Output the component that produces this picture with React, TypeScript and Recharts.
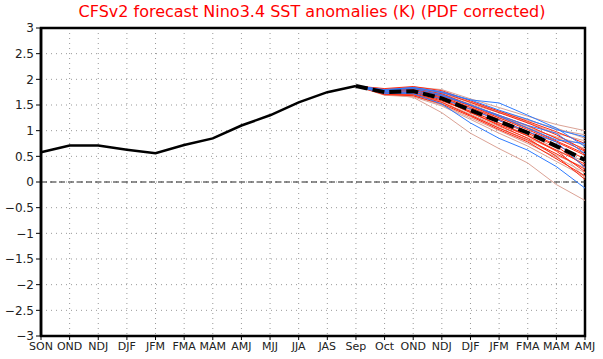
import { LineChart, Line, XAxis, YAxis, CartesianGrid, ReferenceLine, ReferenceArea } from 'recharts';

const categories = ['SON', 'OND', 'NDJ', 'DJF', 'JFM', 'FMA', 'MAM', 'AMJ', 'MJJ', 'JJA', 'JAS', 'Sep', 'Oct', 'OND', 'NDJ', 'DJF', 'JFM', 'FMA', 'MAM', 'AMJ'];
const yTicks = [-3, -2.5, -2, -1.5, -1, -0.5, 0, 0.5, 1, 1.5, 2, 2.5, 3];

// observed, SON .. Sep
const observed = [0.58, 0.71, 0.71, 0.63, 0.56, 0.72, 0.85, 1.1, 1.3, 1.55, 1.75, 1.87];
// ensemble mean, Sep .. AMJ
const ensembleMean = [1.87, 1.75, 1.77, 1.63, 1.4, 1.18, 0.96, 0.7, 0.43];

// members, Oct .. AMJ (start from the last observed value)
const redMembers = [
  [1.78, 1.82, 1.72, 1.5, 1.28, 1.05, 0.8, 0.55],
  [1.72, 1.74, 1.6, 1.35, 1.12, 0.9, 0.62, 0.35],
  [1.8, 1.84, 1.75, 1.55, 1.35, 1.15, 0.92, 0.62],
  [1.7, 1.7, 1.55, 1.3, 1.05, 0.82, 0.55, 0.25],
  [1.76, 1.78, 1.66, 1.45, 1.22, 0.98, 0.72, 0.45],
  [1.74, 1.72, 1.58, 1.38, 1.15, 0.9, 0.6, 0.2],
  [1.82, 1.86, 1.78, 1.58, 1.38, 1.18, 0.98, 0.75],
  [1.73, 1.76, 1.62, 1.36, 1.1, 0.85, 0.5, 0.05],
  [1.77, 1.8, 1.68, 1.48, 1.25, 1.02, 0.78, 0.52],
  [1.71, 1.68, 1.52, 1.28, 1.02, 0.78, 0.45, 0.12],
  [1.79, 1.8, 1.7, 1.5, 1.3, 1.1, 0.85, 0.6],
  [1.75, 1.74, 1.64, 1.42, 1.2, 0.95, 0.7, 0.3],
];
const pinkMembers = [
  [1.72, 1.65, 1.35, 0.95, 0.65, 0.37, -0.05, -0.36],
  [1.8, 1.85, 1.8, 1.62, 1.45, 1.28, 1.12, 1.0],
  [1.76, 1.8, 1.7, 1.52, 1.35, 1.2, 1.05, 0.85],
  [1.7, 1.68, 1.5, 1.25, 1.0, 0.75, 0.48, 0.18],
  [1.74, 1.76, 1.65, 1.45, 1.25, 1.05, 0.88, 0.72],
  [1.78, 1.82, 1.72, 1.55, 1.38, 1.22, 1.02, 0.92],
  [1.72, 1.7, 1.55, 1.3, 1.05, 0.8, 0.52, 0.28],
  [1.77, 1.79, 1.68, 1.48, 1.28, 1.08, 0.86, 0.65],
  [1.73, 1.72, 1.56, 1.32, 1.08, 0.86, 0.62, 0.4],
  [1.75, 1.77, 1.64, 1.4, 1.15, 0.92, 0.66, 0.08],
  [1.81, 1.83, 1.74, 1.56, 1.36, 1.16, 0.95, 0.8],
  [1.69, 1.66, 1.48, 1.22, 0.95, 0.7, 0.4, 0.1],
];
const blueMembers = [
  [1.78, 1.84, 1.74, 1.6, 1.54, 1.3, 1.05, 0.69],
  [1.74, 1.72, 1.52, 1.15, 0.85, 0.62, 0.3, -0.12],
  [1.8, 1.84, 1.76, 1.6, 1.4, 1.22, 1.02, 0.88],
  [1.76, 1.78, 1.68, 1.5, 1.3, 1.1, 0.95, 0.55],
  [1.72, 1.75, 1.62, 1.42, 1.2, 0.98, 0.78, 0.28],
  [1.79, 1.82, 1.7, 1.5, 1.28, 1.05, 0.82, 0.75],
];

const fcStart = observed.length - 1;
const groups: [string, number[][]][] = [['p', pinkMembers], ['r', redMembers], ['b', blueMembers]];

const data = categories.map((label, i) => {
  const row: Record<string, any> = { label };
  if (i < observed.length) row.obs = observed[i];
  if (i >= fcStart) {
    row.mean = ensembleMean[i - fcStart];
    groups.forEach(([key, members]) => {
      members.forEach((m, j) => {
        row[`${key}${j}`] = i === fcStart ? observed[fcStart] : m[i - fcStart - 1];
      });
    });
  }
  return row;
});

const colors: Record<string, string> = { p: '#dba295', r: '#ff2a10', b: '#2f7cff' };
const fmt = (v: number) => String(v).replace('-', '\u2212');
const font = '"DejaVu Sans", sans-serif';

export default function App() {
  return (
    <div style={{ position: 'relative', width: 603, height: 359, background: '#fff' }}>
      <style>{`body{margin:0}`}</style>
      <div style={{ position: 'absolute', top: 2, left: 22, width: 580, textAlign: 'center', color: '#ff0000', fontFamily: font, fontSize: 16 }}>
        CFSv2 forecast Nino3.4 SST anomalies (K) (PDF corrected)
      </div>
      <LineChart width={603} height={359} data={data} margin={{ top: 28, right: 18, bottom: 3, left: 0 }}>
        <CartesianGrid stroke="#999" strokeDasharray="1 4" />
        <XAxis dataKey="label" interval={0} height={20} tickSize={4} tickLine={{ stroke: '#000' }} axisLine={{ stroke: '#000', strokeWidth: 2 }}
          tick={{ fontSize: 11, fill: '#222', fontFamily: font }} />
        <YAxis domain={[-3, 3]} ticks={yTicks} width={41} tickSize={5} tickFormatter={fmt} tickLine={{ stroke: '#000' }} axisLine={{ stroke: '#000', strokeWidth: 2.5 }}
          tick={{ fontSize: 12, fill: '#222', fontFamily: font }} />
        <ReferenceLine y={0} stroke="#222" strokeDasharray="6 3" />
        {groups.map(([key, members]) =>
          members.map((_, j) => (
            <Line key={`${key}${j}`} dataKey={`${key}${j}`} stroke={colors[key]} strokeWidth={1} dot={false} isAnimationActive={false} />
          ))
        )}
        <Line dataKey="obs" stroke="#000" strokeWidth={2.5} dot={false} isAnimationActive={false} />
        <Line dataKey="mean" stroke="#000" strokeWidth={4} strokeDasharray="12 5" dot={false} isAnimationActive={false} />
        <ReferenceArea y1={-3} y2={3} fill="none" stroke="#000" strokeWidth={2.5} />
      </LineChart>
    </div>
  );
}
